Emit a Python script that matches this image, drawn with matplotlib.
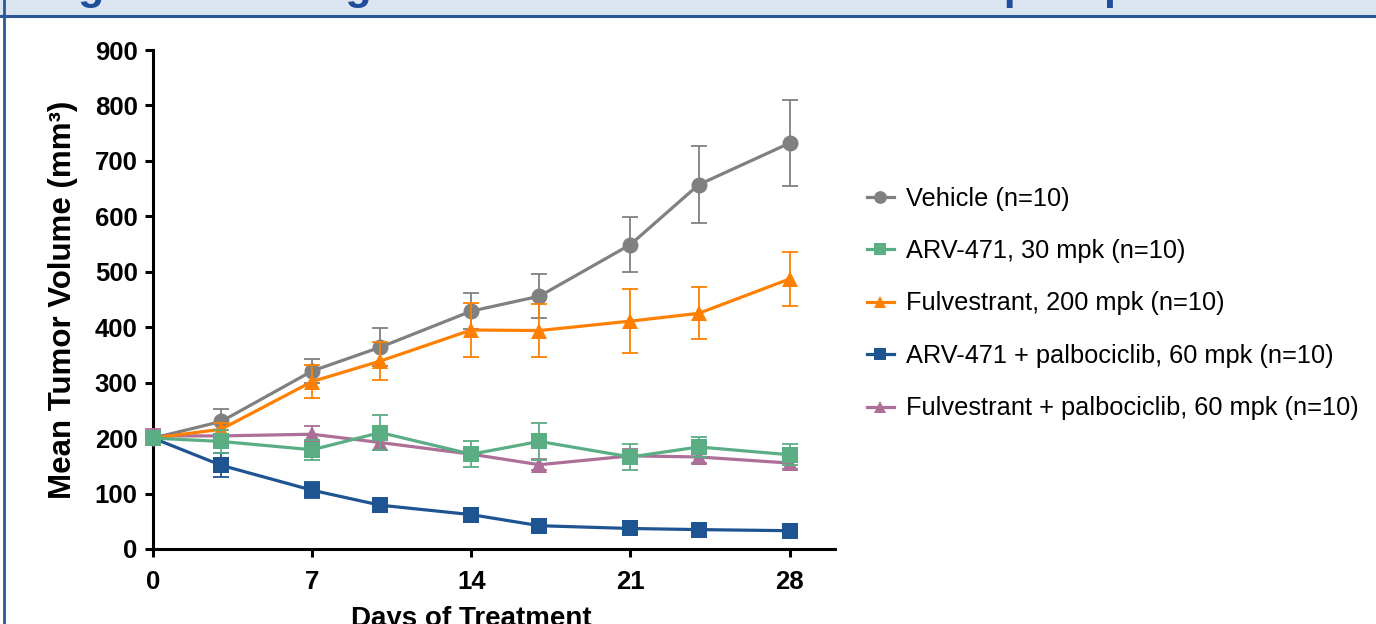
import matplotlib
matplotlib.use("Agg")
import matplotlib.pyplot as plt
from matplotlib.patches import Rectangle
from matplotlib.lines import Line2D

plt.rcParams['font.family'] = ['Liberation Sans', 'DejaVu Sans']

days = [0, 3, 7, 10, 14, 17, 21, 24, 28]

vehicle = [200, 230, 321, 364, 429, 456, 549, 657, 732]
vehicle_err = [12, 22, 22, 34, 32, 40, 50, 69, 78]

arv30 = [200, 194, 179, 210, 171, 194, 166, 184, 170]
arv30_err = [12, 20, 18, 32, 23, 34, 24, 18, 19]

fulv = [200, 216, 302, 339, 395, 394, 411, 425, 487]
fulv_err = [12, 12, 30, 35, 48, 48, 58, 47, 49]

arv_palbo = [200, 151, 106, 79, 62, 42, 37, 35, 33]
arv_palbo_err = [12, 22, 14, 6, 5, 4, 4, 4, 4]

fulv_palbo = [204, 204, 207, 192, 171, 152, 168, 166, 155]
fulv_palbo_err = [12, 10, 14, 13, 10, 10, 12, 10, 10]

labels = ["Vehicle (n=10)", "ARV-471, 30 mpk (n=10)", "Fulvestrant, 200 mpk (n=10)",
          "ARV-471 + palbociclib, 60 mpk (n=10)", "Fulvestrant + palbociclib, 60 mpk (n=10)"]
colors = ["#808080", "#5BAE84", "#FF8000", "#1F5493", "#AD6E98"]
markers = ["o", "s", "^", "s", "^"]
zorders = [3, 7, 6, 4, 5]

x_ticks = [0, 7, 14, 21, 28]
y_ticks = [0, 100, 200, 300, 400, 500, 600, 700, 800, 900]

title_text = "Figure 5: Strong tumor inhibition with ARV-471 plus palbociclib in MCF7 model"

fig = plt.figure(figsize=(13.76, 6.24), dpi=100)

# header strip and frame
fig.patches.append(Rectangle((0, 1 - 15 / 624), 1, 15 / 624, transform=fig.transFigure,
                             facecolor="#DCE6F2", edgecolor="none", zorder=0))
fig.lines.append(Line2D([0, 1], [1 - 15.5 / 624, 1 - 15.5 / 624], transform=fig.transFigure,
                        color="#2B5797", lw=2.2))
fig.lines.append(Line2D([4 / 1376, 4 / 1376], [0, 1], transform=fig.transFigure,
                        color="#2B5797", lw=2.0))
fig.text(40 / 1376, 1 + 1 / 624, title_text, color="#1F4E9C", fontsize=31,
         fontweight="bold", va="baseline", ha="left")

ax = fig.add_axes([153 / 1376, 1 - 549 / 624, (835 - 153) / 1376, (549 - 50) / 624])

series = [vehicle, arv30, fulv, arv_palbo, fulv_palbo]
errs = [vehicle_err, arv30_err, fulv_err, arv_palbo_err, fulv_palbo_err]
handles = []
for vals, err, lab, c, m, z in zip(series, errs, labels, colors, markers, zorders):
    ax.errorbar(days, vals, yerr=err, fmt="none", ecolor=c, elinewidth=1.3,
                capsize=5.5, capthick=1.3, zorder=z, clip_on=False)
    h, = ax.plot(days, vals, color=c, lw=2.3, marker=m, markersize=11.5,
                 markeredgewidth=0, zorder=z + 0.5, clip_on=False, label=lab)
    handles.append(h)

ax.set_xlim(0, 30)
ax.set_ylim(0, 900)
ax.set_xticks(x_ticks)
ax.set_yticks(y_ticks)
for s in ["top", "right"]:
    ax.spines[s].set_visible(False)
for s in ["left", "bottom"]:
    ax.spines[s].set_linewidth(2.2)
ax.tick_params(direction="out", length=6, width=2.2, labelsize=18.5)
ax.tick_params(axis="x", pad=9)
ax.tick_params(axis="y", pad=5)
for t in ax.get_xticklabels() + ax.get_yticklabels():
    t.set_fontweight("bold")

ax.set_xlabel("Days of Treatment", fontsize=20, fontweight="bold", labelpad=6)
ax.xaxis.set_label_coords(14 / 30, -0.115)
ax.set_ylabel("Mean Tumor Volume (mm³)", fontsize=22.5, fontweight="bold", labelpad=12)

fig.legend(handles=handles, labels=labels, loc="center left",
           bbox_to_anchor=(867 / 1376, 1 - 303.5 / 624), frameon=False,
           fontsize=18.3, handlelength=1.05, handletextpad=0.5, labelspacing=1.12,
           borderpad=0, borderaxespad=0, markerscale=0.8)

fig.savefig("out.png", dpi=100)
